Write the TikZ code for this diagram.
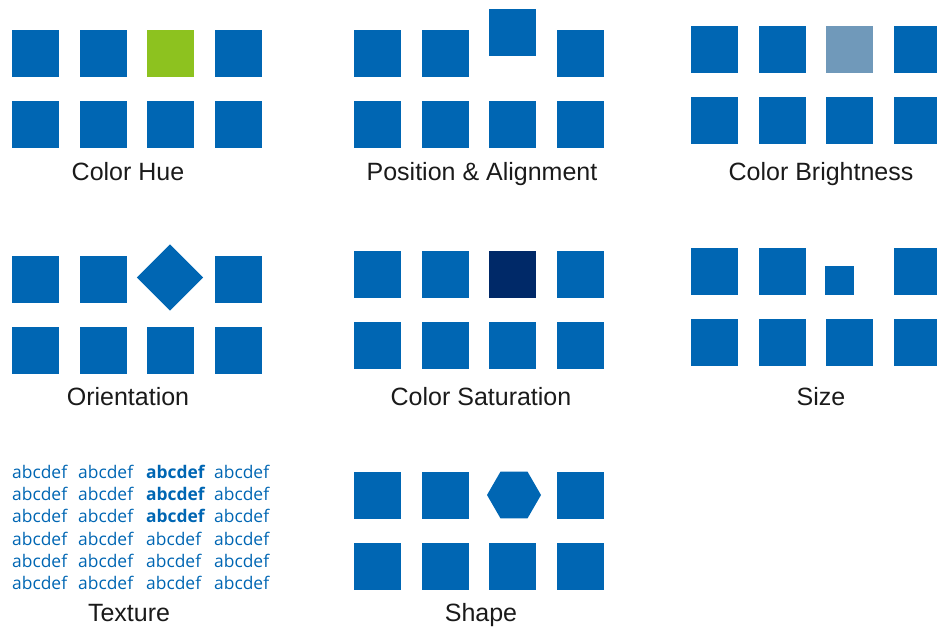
\documentclass[tikz,border=0pt]{standalone}
\usepackage{fontspec}
\setmainfont{Liberation Sans}
\newfontfamily\texturefont{Open Sans}
\usetikzlibrary{shapes.geometric}
\usepackage{xcolor}
\definecolor{tileblue}{HTML}{0066B3}
\definecolor{huegreen}{HTML}{8DC21F}
\definecolor{paleblue}{HTML}{7099BA}
\definecolor{deepnavy}{HTML}{002968}
\definecolor{capgray}{HTML}{1A1A1A}

\begin{document}
\begin{tikzpicture}[
  x=1pt, y=-1pt,
  sq/.style={rectangle, fill=tileblue, minimum size=47pt, inner sep=0pt},
  caption/.style={anchor=base, inner sep=0pt, text=capgray,
    font=\fontsize{25}{30}\selectfont},
  word/.style={anchor=base west, inner sep=0pt, text=tileblue,
    font=\texturefont\fontsize{17.4}{20}\selectfont},
]
\useasboundingbox (0,0) rectangle (937,627);
% color hue
\foreach \x/\n in {35.5/1,103.5/2,238.5/4} \node[sq] (hue-a\n) at (\x,53.5) {};
\node[sq, fill=huegreen] (hue-a3) at (170.5,53.5) {};
\foreach \x/\n in {35.5/1,103.5/2,170.5/3,238.5/4} \node[sq] (hue-b\n) at (\x,124.5) {};
\node[caption] (hue) at (128,180.5) {Color Hue};
% position & alignment
\foreach \x/\n in {377.5/1,445.5/2,580.5/4} \node[sq] (pos-a\n) at (\x,53.5) {};
\node[sq] (pos-a3) at (512.5,32.5) {};
\foreach \x/\n in {377.5/1,445.5/2,512.5/3,580.5/4} \node[sq] (pos-b\n) at (\x,124.5) {};
\node[caption] (pos) at (482,180.5) {Position \& Alignment};
% color brightness
\foreach \x/\n in {714.5/1,782.5/2,917.5/4} \node[sq] (bri-a\n) at (\x,49.5) {};
\node[sq, fill=paleblue] (bri-a3) at (849.5,49.5) {};
\foreach \x/\n in {714.5/1,782.5/2,849.5/3,917.5/4} \node[sq] (bri-b\n) at (\x,120.5) {};
\node[caption] (bri) at (821,180.5) {Color Brightness};
% orientation
\foreach \x/\n in {35.5/1,103.5/2,238.5/4} \node[sq] (ori-a\n) at (\x,279.5) {};
\node[sq, rotate=45] (ori-a3) at (170,277.5) {};
\foreach \x/\n in {35.5/1,103.5/2,170.5/3,238.5/4} \node[sq] (ori-b\n) at (\x,350.5) {};
\node[caption] (ori) at (128,405) {Orientation};
% color saturation
\foreach \x/\n in {377.5/1,445.5/2,580.5/4} \node[sq] (sat-a\n) at (\x,274.5) {};
\node[sq, fill=deepnavy] (sat-a3) at (512.5,274.5) {};
\foreach \x/\n in {377.5/1,445.5/2,512.5/3,580.5/4} \node[sq] (sat-b\n) at (\x,345.5) {};
\node[caption] (sat) at (481,405) {Color Saturation};
% size
\foreach \x/\n in {714.5/1,782.5/2,917.5/4} \node[sq] (siz-a\n) at (\x,271.5) {};
\node[sq, minimum size=29pt] (siz-a3) at (839.5,280.5) {};
\foreach \x/\n in {714.5/1,782.5/2,849.5/3,917.5/4} \node[sq] (siz-b\n) at (\x,342.5) {};
\node[caption] (siz) at (821,405) {Size};
% texture
\foreach \y/\r in {478/1,500/2,522/3} {
  \foreach \x/\n in {12/1,78/2,214/4} \node[word] (tex-\r\n) at (\x,\y) {abcdef};
  \node[word, font=\texturefont\bfseries\fontsize{17.4}{20}\selectfont] (tex-\r3) at (146,\y) {abcdef};
}
\foreach \y/\r in {545/4,567/5,589/6}
  \foreach \x/\n in {12/1,78/2,146/3,214/4} \node[word] (tex-\r\n) at (\x,\y) {abcdef};
\node[caption] (tex) at (129,621.5) {Texture};
% shape
\foreach \x/\n in {377.5/1,445.5/2,580.5/4} \node[sq] (shp-a\n) at (\x,495.5) {};
\node[regular polygon, regular polygon sides=6,
  fill=tileblue, inner sep=0pt, minimum size=54pt] (shp-a3) at (514,495) {};
\foreach \x/\n in {377.5/1,445.5/2,512.5/3,580.5/4} \node[sq] (shp-b\n) at (\x,566.5) {};
\node[caption] (shp) at (481,621.5) {Shape};
\end{tikzpicture}
\end{document}
